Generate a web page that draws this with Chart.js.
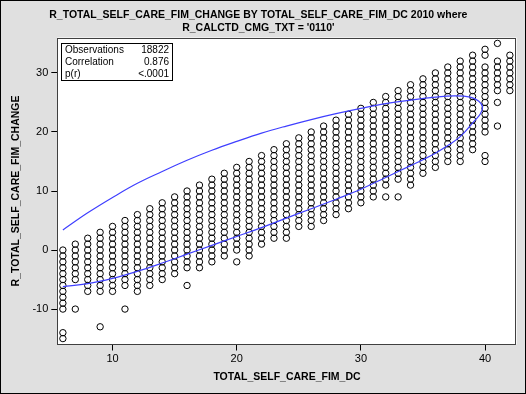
<!DOCTYPE html>
<html><head><meta charset="utf-8">
<script src="https://cdn.jsdelivr.net/npm/chart.js@4/dist/chart.umd.min.js"></script>
<style>html,body{margin:0;padding:0;background:#e0e0e0;overflow:hidden}</style>
</head><body>
<canvas id="c" width="526" height="394"></canvas>
<script>
// ---- data ----
const titleLines = ["R_TOTAL_SELF_CARE_FIM_CHANGE BY TOTAL_SELF_CARE_FIM_DC 2010 where", "R_CALCTD_CMG_TXT = '0110'"];
const xAxisTitle = "TOTAL_SELF_CARE_FIM_DC";
const yAxisTitle = "R_TOTAL_SELF_CARE_FIM_CHANGE";
const xTicks = [10, 20, 30, 40];
const yTicks = [-10, 0, 10, 20, 30];
// each x category holds a continuous column of integer y values from colLow to colHigh
const colX    = [6, 7, 8, 9, 10, 11, 12, 13, 14, 15, 16, 17, 18, 19, 20, 21, 22, 23, 24, 25, 26, 27, 28, 29, 30, 31, 32, 33, 34, 35, 36, 37, 38, 39, 40, 41, 42];
const colLow  = [-10, -5, -7, -7, -7, -6, -7, -6, -5, -4, -3, -3, -2, -1, 0, -1, 1, 2, 2, 4, 4, 5, 6, 7, 8, 9, 11, 12, 11, 13, 14, 15, 15, 17, 20, 27, 27];
const colHigh = [0, 1, 2, 3, 4, 5, 6, 7, 8, 9, 10, 11, 12, 13, 14, 15, 16, 17, 18, 19, 20, 21, 22, 23, 24, 25, 26, 27, 28, 29, 30, 31, 32, 33, 31, 32, 33];
// isolated observations outside the columns
const extraX = [6, 6, 7, 9, 11, 16, 20, 32, 33, 40, 40, 40, 40, 41, 41, 41];
const extraY = [-14, -15, -10, -13, -10, -6, -2, 9, 9, 33, 34, 16, 15, 35, 25, 21];
// prediction ellipse
const ellipseX = [6, 8, 10, 12, 14, 16, 18, 20, 22, 24, 26, 28, 30, 32, 34, 36, 37.5, 38.8, 39.5, 39.8, 39.6, 39.2, 38, 37, 36, 35, 34, 32, 30, 28, 26, 24, 22, 20, 18, 16, 14, 12, 10, 8, 6];
const ellipseY = [3.4, 6.3, 8.9, 11.3, 13.3, 15.2, 16.9, 18.4, 19.8, 21.0, 22.1, 23.1, 24.0, 24.8, 25.4, 25.9, 26.1, 25.9, 25.2, 24.2, 23.0, 22.0, 19.2, 17.7, 16.4, 15.3, 14.3, 12.3, 10.3, 8.6, 7.0, 5.4, 3.8, 2.3, 0.8, -0.7, -2.2, -3.6, -4.8, -5.7, -6.2];
const statLabels = ["Observations", "Correlation", "p(r)"];
const statValues = ["18822", "0.876", "<.0001"];

// ---- build datasets ----
const scatterPts = [];
colX.forEach((x, i) => { for (let y = colLow[i]; y <= colHigh[i]; y++) scatterPts.push({x, y}); });
extraX.forEach((x, i) => scatterPts.push({x, y: extraY[i]}));
const ellipsePts = ellipseX.map((x, i) => ({x, y: ellipseY[i]}));

const FONT = "'Liberation Sans', Arial, sans-serif";

const decor = {
  id: 'decor',
  beforeDraw(chart) {
    const {ctx, chartArea: a} = chart;
    ctx.save();
    ctx.fillStyle = '#e0e0e0';
    ctx.fillRect(0, 0, chart.width, chart.height);
    ctx.fillStyle = '#ffffff';
    ctx.fillRect(a.left, a.top, a.right - a.left, a.bottom - a.top);
    ctx.restore();
  },
  afterDraw(chart) {
    const {ctx, chartArea: a} = chart;
    ctx.save();
    ctx.strokeStyle = '#404040';
    ctx.lineWidth = 1;
    ctx.strokeRect(Math.round(a.left) + 0.5, Math.round(a.top) + 0.5, Math.round(a.right - a.left) - 1, Math.round(a.bottom - a.top) - 1);
    // stats inset
    const bx = Math.round(a.left) + 4, by = Math.round(a.top) + 5, bw = 111, bh = 37;
    ctx.fillStyle = '#fff';
    ctx.fillRect(bx, by, bw, bh);
    ctx.strokeStyle = '#000';
    ctx.strokeRect(bx + 0.5, by + 0.5, bw, bh);
    ctx.fillStyle = '#000';
    ctx.font = '10px ' + FONT;
    ctx.textBaseline = 'middle';
    statLabels.forEach((t, i) => {
      ctx.textAlign = 'left';
      ctx.fillText(t, bx + 4, by + 7 + i * 12);
      ctx.textAlign = 'right';
      ctx.fillText(statValues[i], bx + bw - 3, by + 7 + i * 12);
    });
    // outer border
    ctx.strokeStyle = '#000';
    ctx.strokeRect(0.5, 0.5, chart.width - 1, chart.height - 1);
    ctx.restore();
  }
};

new Chart(document.getElementById('c'), {
  type: 'scatter',
  data: {
    datasets: [
      {
        data: scatterPts,
        pointStyle: 'circle',
        pointRadius: 3.2,
        pointBorderWidth: 1,
        pointBorderColor: '#000',
        pointBackgroundColor: 'rgba(0,0,0,0)',
        showLine: false,
        order: 2
      },
      {
        data: ellipsePts,
        showLine: true,
        pointRadius: 0,
        borderColor: '#3f3fff',
        borderWidth: 1.2,
        tension: 0.4,
        fill: false,
        order: 1
      }
    ]
  },
  options: {
    responsive: false,
    animation: false,
    devicePixelRatio: 1,
    events: [],
    layout: { padding: { left: 0, right: 9.3, top: 0, bottom: 0 } },
    plugins: {
      legend: { display: false },
      tooltip: { enabled: false },
      title: {
        display: true,
        text: titleLines,
        color: '#000',
        font: { family: FONT, size: 10.5, weight: 'bold', lineHeight: 1.2 },
        padding: { top: 9.2, bottom: 3.1 }
      }
    },
    scales: {
      x: {
        type: 'linear',
        min: 5.55, max: 42.55,
        afterBuildTicks: s => { s.ticks = xTicks.map(v => ({value: v})); },
        afterFit: s => { s.height = 49.5; },
        grid: { display: true, drawOnChartArea: false, drawTicks: true, tickLength: 6, color: '#000' },
        border: { display: false },
        ticks: { color: '#000', padding: 2, maxRotation: 0, font: { family: FONT, size: 11 } },
        title: { display: true, text: xAxisTitle, color: '#000', font: { family: FONT, size: 10.5, weight: 'bold', lineHeight: 1.2 }, padding: { top: 0, bottom: 10.4 } }
      },
      y: {
        type: 'linear',
        min: -16, max: 36,
        afterBuildTicks: s => { s.ticks = yTicks.map(v => ({value: v})); },
        afterFit: s => { s.width = 57.3; },
        grid: { display: true, drawOnChartArea: false, drawTicks: true, tickLength: 6, color: '#000' },
        border: { display: false },
        ticks: { color: '#000', padding: 3, font: { family: FONT, size: 11 } },
        title: { display: true, text: yAxisTitle, color: '#000', font: { family: FONT, size: 10.5, weight: 'bold', lineHeight: 1.2 }, padding: { top: 10.2, bottom: 0 } }
      }
    }
  },
  plugins: [decor]
});
</script>
</body></html>
